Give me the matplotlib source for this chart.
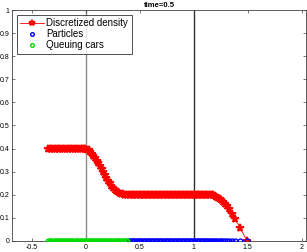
import matplotlib
matplotlib.use("Agg")
import matplotlib.pyplot as plt

plt.rcParams['font.family'] = ['Liberation Sans', 'DejaVu Sans']

# queuing cars (left of the particle region), density 0.4 -> 0.2
queue_x = [-0.35, -0.335, -0.32, -0.305, -0.29, -0.275, -0.26, -0.245, -0.23, -0.215,
           -0.20, -0.185, -0.17, -0.155, -0.14, -0.125, -0.11, -0.095, -0.08, -0.065,
           -0.05, -0.035, -0.02, -0.005, 0.01, 0.025, 0.04, 0.055, 0.07, 0.085,
           0.10, 0.115, 0.13, 0.145, 0.16, 0.175, 0.19, 0.205, 0.22, 0.235,
           0.25, 0.265, 0.28, 0.295, 0.31, 0.325, 0.34, 0.355, 0.37, 0.385]
queue_rho = [0.40, 0.40, 0.40, 0.40, 0.40, 0.40, 0.40, 0.40, 0.40, 0.40,
             0.40, 0.40, 0.40, 0.40, 0.40, 0.40, 0.40, 0.40, 0.40, 0.40,
             0.40, 0.40, 0.399, 0.398, 0.396, 0.392, 0.386, 0.378, 0.369, 0.359,
             0.348, 0.336, 0.324, 0.311, 0.298, 0.285, 0.272, 0.260, 0.249, 0.239,
             0.230, 0.222, 0.216, 0.211, 0.207, 0.204, 0.202, 0.201, 0.200, 0.200]

# moving particles
part_x = [0.40, 0.4125, 0.425, 0.4375, 0.45, 0.4625, 0.475, 0.4875, 0.50, 0.5125,
          0.525, 0.5375, 0.55, 0.5625, 0.575, 0.5875, 0.60, 0.6125, 0.625, 0.6375,
          0.65, 0.6625, 0.675, 0.6875, 0.70, 0.7125, 0.725, 0.7375, 0.75, 0.7625,
          0.775, 0.7875, 0.80, 0.8125, 0.825, 0.8375, 0.85, 0.8625, 0.875, 0.8875,
          0.90, 0.9125, 0.925, 0.9375, 0.95, 0.9625, 0.975, 0.9875, 1.00, 1.0125,
          1.025, 1.0375, 1.05, 1.0625, 1.075, 1.0875, 1.10, 1.1125, 1.125, 1.1375,
          1.15, 1.165, 1.18, 1.195, 1.21, 1.225, 1.24, 1.255, 1.27, 1.287,
          1.307, 1.327, 1.355, 1.38, 1.43, 1.49]
part_rho = [0.20, 0.20, 0.20, 0.20, 0.20, 0.20, 0.20, 0.20, 0.20, 0.20,
            0.20, 0.20, 0.20, 0.20, 0.20, 0.20, 0.20, 0.20, 0.20, 0.20,
            0.20, 0.20, 0.20, 0.20, 0.20, 0.20, 0.20, 0.20, 0.20, 0.20,
            0.20, 0.20, 0.20, 0.20, 0.20, 0.20, 0.20, 0.20, 0.20, 0.20,
            0.20, 0.20, 0.20, 0.20, 0.20, 0.20, 0.20, 0.20, 0.20, 0.20,
            0.20, 0.20, 0.20, 0.20, 0.20, 0.20, 0.20, 0.20, 0.20, 0.20,
            0.20, 0.199, 0.197, 0.195, 0.192, 0.188, 0.183, 0.177, 0.170, 0.161,
            0.150, 0.139, 0.115, 0.094, 0.058, 0.0]

dens_x = queue_x + part_x
dens_rho = queue_rho + part_rho

fig = plt.figure(figsize=(3.07, 2.52), dpi=100)
ax = fig.add_axes([0.039, 0.044, 0.958, 0.916])

ax.axvline(0, color='#8a8a8a', lw=1.0, zorder=1)
ax.axvline(1, color='#303030', lw=1.0, zorder=1)

ax.plot(dens_x, dens_rho, '-*', color='red', lw=0.6, ms=5.5, mew=1.4,
        label='Discretized density', zorder=3)
ax.plot(part_x, [0] * len(part_x), 'o', mfc='none', mec='blue', ms=3.5, mew=1.0,
        label='Particles', zorder=4)
ax.plot(queue_x, [0] * len(queue_x), 'o', mfc='none', mec='#00dd00', ms=3.5, mew=1.0,
        label='Queuing cars', zorder=4)

ax.set_xlim(-0.685, 2.04)
ax.set_ylim(0, 1)
ax.set_xticks([-0.5, 0, 0.5, 1, 1.5, 2])
ax.set_xticklabels(['-0.5', '0', '0.5', '1', '1.5', '2'])
ax.set_yticks([0, 0.1, 0.2, 0.3, 0.4, 0.5, 0.6, 0.7, 0.8, 0.9, 1])
ax.set_yticklabels(['0', '0.1', '0.2', '0.3', '0.4', '0.5', '0.6', '0.7', '0.8', '0.9', '1'])
ax.tick_params(direction='in', length=2.5, width=0.5, labelsize=5, pad=2,
               top=True, right=True, colors='#404040', labelcolor='black')
for s in ax.spines.values():
    s.set_linewidth(0.6)
    s.set_color('#404040')

ax.set_title('time=0.5', fontsize=5.5, fontweight='bold', pad=2)

leg = ax.legend(loc='upper left', fontsize=7, frameon=True, fancybox=False,
                edgecolor='black', borderpad=0.35, labelspacing=0.1, numpoints=1,
                markerscale=0.75, handlelength=2.4, handletextpad=0.3,
                borderaxespad=0.5)
leg.get_frame().set_linewidth(0.6)

fig.savefig('out.png', dpi=100)
